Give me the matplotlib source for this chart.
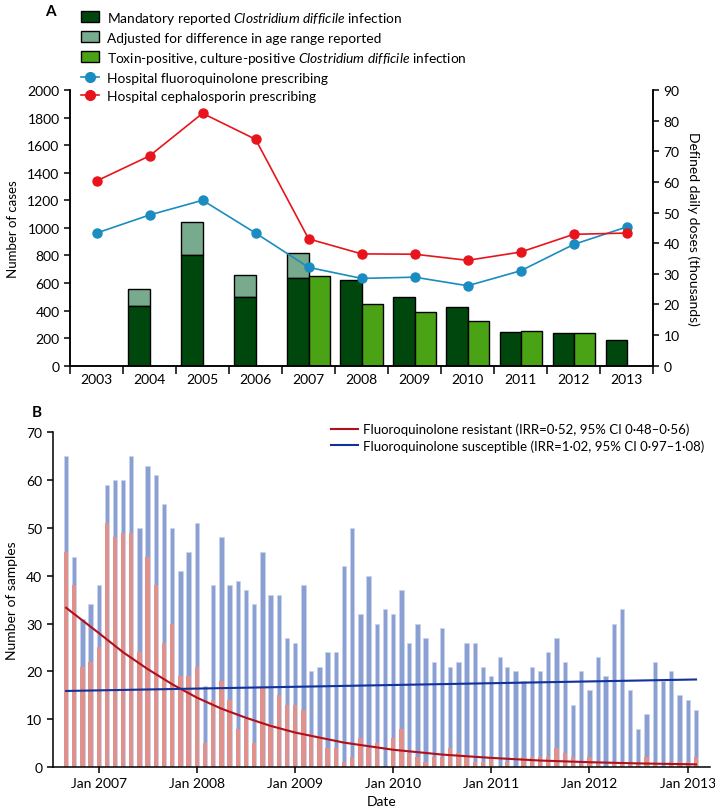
import numpy as np
import pandas as pd
import matplotlib
matplotlib.use("Agg")
import matplotlib.pyplot as plt
import matplotlib.dates as mdates
from matplotlib.patches import Patch
from matplotlib.lines import Line2D

plt.rcParams['font.family'] = ['Lato', 'DejaVu Sans']
plt.rcParams['mathtext.fontset'] = 'custom'
plt.rcParams['mathtext.rm'] = 'Lato'
plt.rcParams['mathtext.it'] = 'Lato:italic'
plt.rcParams['axes.linewidth'] = 1.1

# ---- panel A data ----
years = ['2003', '2004', '2005', '2006', '2007', '2008', '2009', '2010', '2011', '2012', '2013']
mandatory = [np.nan, 430, 800, 500, 635, 620, 500, 425, 245, 240, 190]
adjusted = [np.nan, 560, 1040, 655, 815, np.nan, np.nan, np.nan, np.nan, np.nan, np.nan]
toxin_pos = [np.nan, np.nan, np.nan, np.nan, 650, 450, 390, 325, 255, 235, np.nan]
fluoro_ddd = [43.3, 49.2, 54.0, 43.3, 32.1, 28.5, 28.9, 26.1, 31.0, 39.6, 45.3]
ceph_ddd = [60.3, 68.5, 82.4, 73.9, 41.4, 36.5, 36.4, 34.4, 37.1, 42.9, 43.3]

# ---- panel B data (monthly, Sep 2006 - Feb 2013) ----
total_samples = [65, 44, 31, 34, 38, 59, 60, 60, 65, 50, 63, 61, 55, 50, 41, 45,
                 51, 17, 38, 48, 38, 39, 37, 34, 45, 36, 36, 27, 26, 38, 20, 21,
                 24, 24, 42, 50, 32, 40, 30, 33, 32, 37, 26, 30, 27, 22, 29, 21,
                 22, 26, 26, 21, 19, 23, 21, 20, 18, 21, 20, 24, 27, 22, 13, 20,
                 16, 23, 19, 30, 33, 16, 8, 11, 22, 18, 20, 15, 14, 12]
resistant = [45, 38, 21, 22, 25, 51, 48, 49, 49, 24, 44, 38, 26, 30, 19, 19,
             21, 5, 14, 18, 14, 8, 10, 5, 17, 9, 15, 13, 13, 12, 7, 6,
             4, 4, 1, 2, 6, 4, 5, 0, 6, 8, 3, 2, 1, 2, 2, 4,
             3, 2, 1, 1, 2, 0, 1, 0, 2, 2, 2, 2, 4, 3, 2, 1,
             2, 1, 0, 1, 1, 1, 1, 2, 1, 0, 1, 1, 1, 2]
months = pd.date_range('2006-09-01', periods=len(total_samples), freq='MS')

# fitted trend lines
res_trend_dates = pd.to_datetime(['2006-09-01', '2007-01-01', '2007-04-01', '2007-07-01',
                                  '2007-10-01', '2008-01-01', '2008-04-01', '2008-07-01',
                                  '2008-10-01', '2009-01-01', '2009-07-01', '2010-01-01',
                                  '2010-07-01', '2011-01-01', '2011-07-01', '2012-01-01',
                                  '2012-07-01', '2013-02-01'])
res_trend = [33.3, 28.0, 24.0, 20.5, 17.3, 14.5, 12.2, 10.3, 8.6, 7.2, 5.1, 3.6,
             2.6, 1.9, 1.35, 1.0, 0.75, 0.55]
sus_trend_dates = pd.to_datetime(['2006-09-01', '2013-02-01'])
sus_trend = [15.9, 18.3]

dark_green = '#00470e'
adj_green = '#78aa8e'
light_green = '#4aa215'
fq_blue = '#1a8cc0'
ceph_red = '#e8141c'

fig = plt.figure(figsize=(7.15, 8.12), dpi=100)

# ================= panel A =================
axA = fig.add_axes([0.0979, 0.5484, 0.8158, 0.3395])
x = np.arange(len(years))
mand = np.array(mandatory, dtype=float)
adj = np.array(adjusted, dtype=float)
tox = np.array(toxin_pos, dtype=float)

m = ~np.isnan(adj)
axA.bar(x[m] - 0.4, adj[m] - mand[m], bottom=mand[m], width=0.4, align='edge',
        color=adj_green, edgecolor='black', linewidth=1.0)
m = ~np.isnan(mand)
axA.bar(x[m] - 0.4, mand[m], width=0.4, align='edge',
        color=dark_green, edgecolor='black', linewidth=1.0)
m = ~np.isnan(tox)
axA.bar(x[m], tox[m], width=0.4, align='edge',
        color=light_green, edgecolor='black', linewidth=1.0)

axA.set_xlim(-0.5, len(years) - 0.5)
axA.set_ylim(0, 2000)
axA.set_yticks(np.arange(0, 2001, 200))
axA.set_xticks(np.arange(-0.5, len(years), 1.0))
axA.set_xticklabels([])
axA.set_xticks(x, minor=True)
axA.set_xticklabels(years, minor=True)
axA.tick_params(axis='x', which='major', direction='out', length=6, width=1.1)
axA.tick_params(axis='x', which='minor', length=0, pad=5, labelsize=10)
axA.tick_params(axis='y', direction='out', length=4, width=1.1, labelsize=10)
axA.spines['top'].set_visible(False)
axA.set_ylabel('Number of cases', fontsize=9.5, labelpad=6)

axR = axA.twinx()
axR.plot(x, fluoro_ddd, '-o', color=fq_blue, lw=1.2, ms=6.5)
axR.plot(x, ceph_ddd, '-o', color=ceph_red, lw=1.2, ms=6.5)
axR.set_ylim(0, 90)
axR.set_yticks(np.arange(0, 91, 10))
axR.spines['top'].set_visible(False)
axR.tick_params(axis='y', direction='out', length=4, width=1.1, labelsize=10)
axR.set_ylabel('Defined daily doses (thousands)', fontsize=10, rotation=270, labelpad=14)

handles = [
    Patch(facecolor=dark_green, edgecolor='black', linewidth=1.0),
    Patch(facecolor=adj_green, edgecolor='black', linewidth=1.0),
    Patch(facecolor=light_green, edgecolor='black', linewidth=1.0),
    Line2D([], [], color=fq_blue, marker='o', lw=1.2, ms=7),
    Line2D([], [], color=ceph_red, marker='o', lw=1.2, ms=7),
]
labels = [
    r'Mandatory reported $\it{Clostridium\ difficile}$ infection',
    'Adjusted for difference in age range reported',
    r'Toxin-positive, culture-positive $\it{Clostridium\ difficile}$ infection',
    'Hospital fluoroquinolone prescribing',
    'Hospital cephalosporin prescribing',
]
fig.legend(handles, labels, loc='upper left', bbox_to_anchor=(0.113, 0.987),
           frameon=False, fontsize=9.9, handlelength=1.35, handleheight=0.85,
           handletextpad=0.55, labelspacing=0.43, borderaxespad=0, borderpad=0)

fig.text(0.063, 0.994, 'A', fontsize=11, fontweight='bold', va='top', ha='left')

# ================= panel B =================
axB = fig.add_axes([0.0737, 0.0542, 0.9193, 0.4122])
axB.bar(months, total_samples, width=16, color='#8a9fd2', edgecolor='#c9d3ee',
        linewidth=0.5)
axB.bar(months, resistant, width=16, color='#e0918c', linewidth=0)
axB.plot(res_trend_dates, res_trend, color='#b0101a', lw=1.5,
         label='Fluoroquinolone resistant (IRR=0\u00b752, 95% CI 0\u00b748\u20130\u00b756)')
axB.plot(sus_trend_dates, sus_trend, color='#10329a', lw=1.5,
         label='Fluoroquinolone susceptible (IRR=1\u00b702, 95% CI 0\u00b797\u20131\u00b708)')

axB.set_ylim(0, 70)
axB.set_yticks(np.arange(0, 71, 10))
axB.xaxis.set_major_locator(mdates.YearLocator(1, month=1, day=1))
axB.xaxis.set_major_formatter(mdates.DateFormatter('Jan %Y'))
axB.set_xlim(pd.Timestamp('2006-07-13'), pd.Timestamp('2013-03-25'))
axB.tick_params(axis='both', direction='out', length=4, width=1.1, labelsize=10)
axB.spines['top'].set_visible(False)
axB.spines['right'].set_visible(False)
axB.set_ylabel('Number of samples', fontsize=10, labelpad=6)
axB.set_xlabel('Date', fontsize=10, labelpad=4)
axB.legend(loc='upper right', bbox_to_anchor=(0.985, 0.478), bbox_transform=fig.transFigure,
           frameon=False, fontsize=9.5, handlelength=2.0, handletextpad=0.4,
           labelspacing=0.3, borderaxespad=0, borderpad=0)

fig.text(0.045, 0.5, 'B', fontsize=11, fontweight='bold', va='top', ha='left')

fig.savefig('out.png', dpi=100)
